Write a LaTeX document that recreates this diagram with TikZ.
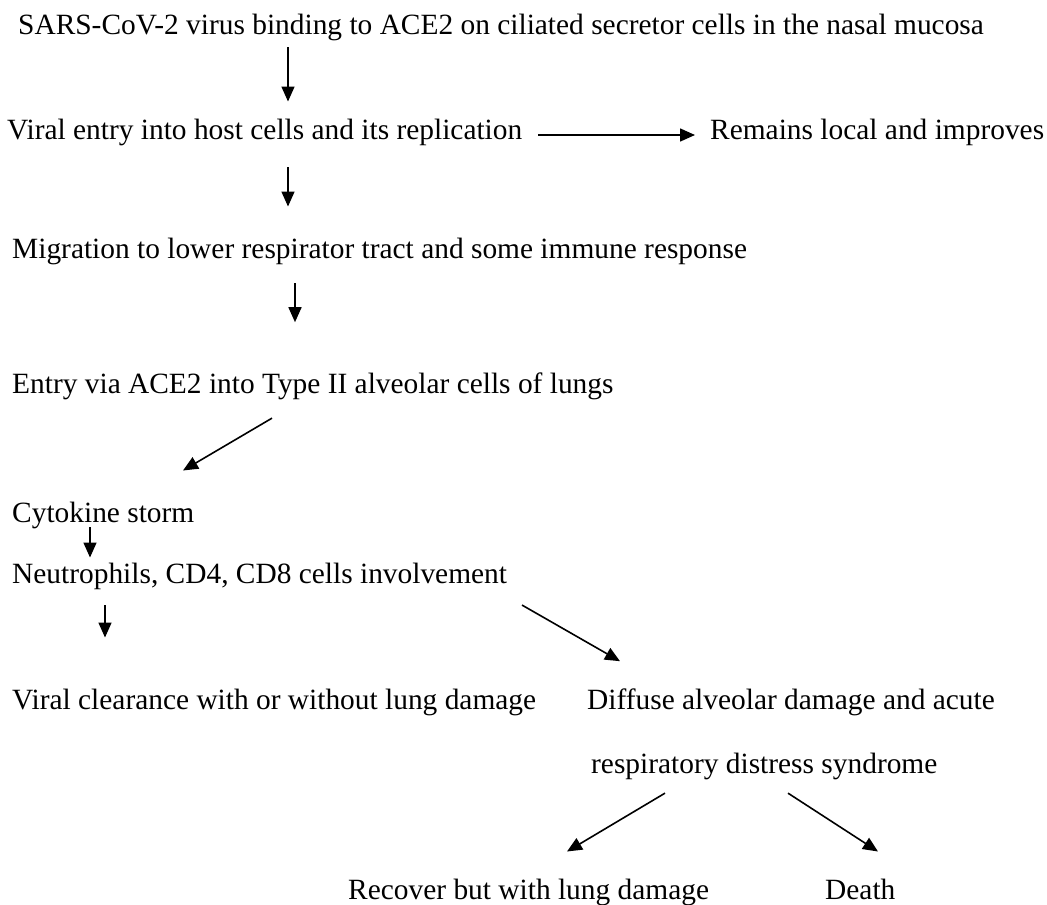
\documentclass[tikz,border=0pt]{standalone}
\usepackage{fontspec}
\setmainfont{Liberation Serif}
\usepackage{tikz}
\usetikzlibrary{arrows.meta,positioning}

\tikzset{
  txt/.style={anchor=base west, inner sep=0pt, font=\fontsize{29.4}{35}\selectfont},
  arr/.style={line width=1.6pt, -{Triangle[length=15pt,width=13pt]}},
}

\begin{document}
\begin{tikzpicture}[x=1pt,y=1pt]
    \useasboundingbox (0,0) rectangle (1047,-905);

    % upper chain
    \node[txt] (sars) at (18,-34) {SARS-CoV-2 virus binding to ACE2 on ciliated secretor cells in the nasal mucosa};
    \node[txt] (viral) at (7,-139) {Viral entry into host cells and its replication};
    \node[txt] (remains) at (710,-139) {Remains local and improves};
    \node[txt] (migr) at (12,-258) {Migration to lower respirator tract and some immune response};
    \node[txt] (entry) at (12,-393) {Entry via ACE2 into Type II alveolar cells of lungs};

    % immune part
    \node[txt] (cyto) at (12,-522) {Cytokine storm};
    \node[txt] (neut) at (12,-583) {Neutrophils, CD4, CD8 cells involvement};

    % outcomes
    \node[txt] (clear) at (12,-709) {Viral clearance with or without lung damage};
    \node[txt] (diffuse) at (587,-709) {Diffuse alveolar damage and acute};
    \node[txt] (resp) at (591,-773) {respiratory distress syndrome};
    \node[txt] (recover) at (348,-899) {Recover but with lung damage};
    \node[txt] (death) at (825,-899) {Death};

    % arrows
    \draw[arr] ([yshift=-6.6pt]sars.south -| 288,0) -- ([yshift=16.9pt]viral.north -| 288,0);
    \draw[arr] ([xshift=16pt,yshift=4pt]viral.base east) -- ([xshift=-15pt,yshift=4pt]remains.base west);
    \draw[arr] ([yshift=-21.6pt]viral.south -| 288,0) -- ([yshift=30.9pt]migr.north -| 288,0);
    \draw[arr] ([yshift=-18.6pt]migr.south -| 295,0) -- ([yshift=49.9pt]entry.north -| 295,0);
    \draw[arr] ([yshift=-18.6pt]entry.south -| 272,0) -- ([yshift=30.9pt]cyto.north -| 183,0);
    \draw[arr] ([yshift=1.4pt]cyto.south -| 90,0) -- ([yshift=4.9pt]neut.north -| 90,0);
    \draw[arr] ([yshift=-15.6pt]neut.south -| 105,0) -- ([yshift=50.9pt]clear.north -| 105,0);
    \draw[arr] ([yshift=-15.6pt]neut.south -| 522,0) -- ([yshift=26.9pt]diffuse.north -| 620,0);
    \draw[arr] ([yshift=-13.6pt]resp.south -| 665,0) -- ([yshift=26.9pt]recover.north -| 567,0);
    \draw[arr] ([yshift=-13.6pt]resp.south -| 788,0) -- ([yshift=26.9pt]death.north -| 878,0);
\end{tikzpicture}
\end{document}
